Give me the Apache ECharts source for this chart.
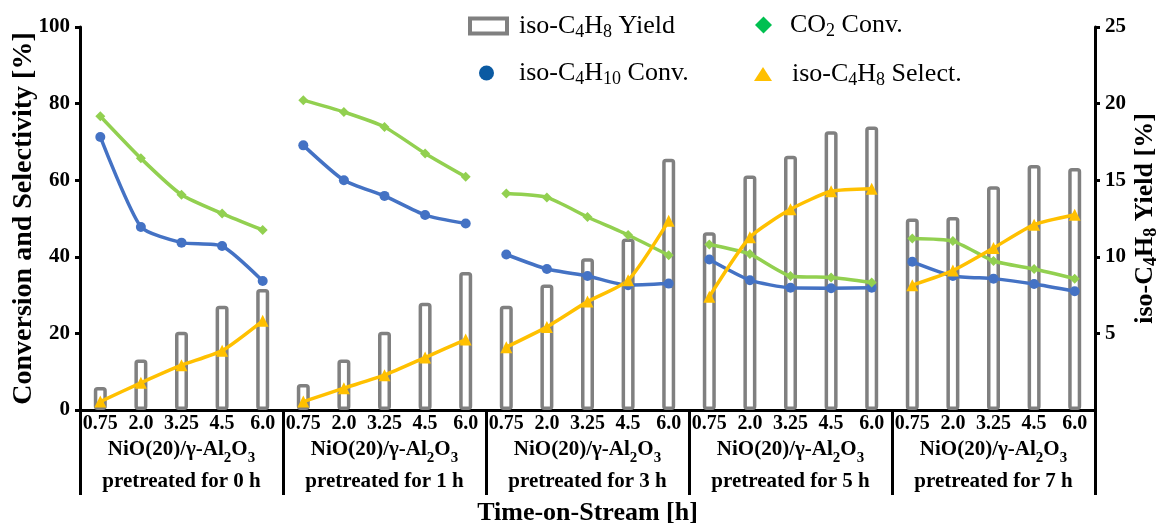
<!DOCTYPE html>
<html>
<head>
<meta charset="utf-8">
<script src="https://cdn.jsdelivr.net/npm/echarts@6/dist/echarts.min.js"></script>
<style>
html,body{margin:0;padding:0;background:#fff;}
#chart{width:1156px;height:525px;}
</style>
</head>
<body>
<div id="chart"></div>
<script>
// ---- data ----
const times = ['0.75', '2.0', '3.25', '4.5', '6.0'];
const pretreat = ['0 h', '1 h', '3 h', '5 h', '7 h'];

// iso-C4H10 conversion [%] (left axis)
const isoConv = [71.3, 47.8, 43.7, 42.8, 33.7,
                 69.1, 60.0, 55.9, 50.9, 48.7,
                 40.6, 36.8, 35.0, 32.6, 33.0,
                 39.3, 33.9, 31.9, 31.8, 31.9,
                 38.7, 35.0, 34.3, 32.9, 31.0];
// CO2 conversion [%] (left axis)
const co2Conv = [76.7, 65.7, 56.2, 51.3, 47.0,
                 80.9, 77.8, 73.9, 67.0, 60.9,
                 56.5, 55.5, 50.4, 45.7, 40.4,
                 43.2, 40.7, 35.0, 34.6, 33.3,
                 44.8, 44.1, 38.9, 36.8, 34.3];
// iso-C4H8 selectivity [%] (left axis)
const isoSel = [2.2, 7.1, 11.7, 15.5, 23.3,
                2.2, 5.7, 9.1, 13.7, 18.4,
                16.4, 21.7, 28.3, 33.9, 49.4,
                29.6, 45.1, 52.4, 57.1, 57.8,
                32.6, 36.4, 42.3, 48.4, 51.0];
// iso-C4H8 yield [%] (right axis)
const isoYield = [1.5, 3.3, 5.1, 6.8, 7.9,
                  1.7, 3.3, 5.1, 7.0, 9.0,
                  6.8, 8.2, 9.9, 11.2, 16.4,
                  11.6, 15.3, 16.6, 18.2, 18.5,
                  12.5, 12.6, 14.6, 16.0, 15.8];

const leftTicks = [0, 20, 40, 60, 80, 100];
const rightTicks = [0, 5, 10, 15, 20, 25];

// ---- build ----
const FONT = 'Liberation Serif';
const cats = [];
pretreat.forEach((p, g) => times.forEach(t => cats.push(g + '|' + t)));

const names = {
  Yield: '{g|}{n|iso-C}{s|4}{n|H}{s|8}{n| Yield}',
  Conv: '{g|}{n|iso-C}{s|4}{n|H}{s|10}{n| Conv.}',
  CO2: '{g|}{n|CO}{s|2}{n| Conv.}',
  Sel: '{g|}{n|iso-C}{s|4}{n|H}{s|8}{n| Select.}'
};
function legendRich(gap) {
  return {
    g: {width: gap},
    n: {fontFamily: FONT, fontSize: 26, lineHeight: 30, color: '#000'},
    s: {fontFamily: FONT, fontSize: 18, lineHeight: 20, verticalAlign: 'bottom', color: '#000'}
  };
}
function mkLegend(name, left, top, w, h, icon, itemStyle, gap) {
  return {
    left: left, top: top, itemWidth: w, itemHeight: h, padding: 0,
    selectedMode: false,
    data: [{name: name, icon: icon, itemStyle: itemStyle}],
    formatter: n => names[n],
    textStyle: {rich: legendRich(gap)}
  };
}

function groupSlice(arr, g) {
  return arr.map((v, i) => (Math.floor(i / 5) === g ? v : '-'));
}

const series = [{
  name: 'Yield', type: 'bar', yAxisIndex: 1, xAxisIndex: 0,
  data: isoYield, barWidth: 13,
  itemStyle: {color: '#ffffff', borderColor: '#808080', borderWidth: 3.5, borderRadius: 2}
}];
const lineDefs = [
  {name: 'Conv', arr: isoConv, color: '#4472C4', symbol: 'circle', size: 10},
  {name: 'CO2', arr: co2Conv, color: '#92D050', symbol: 'diamond', size: 10},
  {name: 'Sel', arr: isoSel, color: '#FFC000', symbol: 'triangle', size: 12}
];
lineDefs.forEach(d => {
  for (let g = 0; g < pretreat.length; g++) {
    series.push({
      name: d.name, type: 'line', yAxisIndex: 0, xAxisIndex: 0,
      data: groupSlice(d.arr, g), smooth: 0.2,
      symbol: d.symbol, symbolSize: d.size, showSymbol: true,
      lineStyle: {color: d.color, width: 3.5},
      itemStyle: {color: d.color},
      z: 3
    });
  }
});

const axisBlack = {color: '#000', width: 3};
const option = {
  animation: false,
  backgroundColor: '#fff',
  grid: {left: 80, right: 61, top: 27, bottom: 115, containLabel: false, outerBoundsMode: 'none'},
  legend: [
    mkLegend('Yield', 468, 13, 37, 15, 'rect', {color: '#fff', borderColor: '#808080', borderWidth: 4}, 7),
    mkLegend('Conv', 479, 60, 15, 15, 'circle', {color: '#0B5AA2'}, 20),
    mkLegend('CO2', 755, 12, 17, 17, 'diamond', {color: '#00C050'}, 13),
    mkLegend('Sel', 754, 61, 18, 14, 'triangle', {color: '#FFC000'}, 15)
  ],
  xAxis: [{
    type: 'category', data: cats, boundaryGap: true, position: 'bottom',
    axisLine: {lineStyle: axisBlack},
    axisTick: {show: false},
    splitLine: {show: false},
    axisLabel: {
      interval: 0, margin: 4, color: '#000', fontFamily: FONT, fontWeight: 'bold', fontSize: 20,
      formatter: v => v.split('|')[1]
    }
  }, {
    type: 'category', data: pretreat, boundaryGap: true, position: 'bottom', gridIndex: 0,
    axisLine: {show: false},
    axisTick: {show: true, length: 85, interval: 0, lineStyle: axisBlack},
    splitLine: {show: false},
    axisLabel: {
      interval: 0, margin: 24,
      formatter: v => '{b|NiO(20)/γ-Al}{bs|2}{b|O}{bs|3}\n{b|pretreated for ' + v + '}',
      rich: {
        b: {fontFamily: FONT, fontWeight: 'bold', fontSize: 21, lineHeight: 32, color: '#000'},
        bs: {fontFamily: FONT, fontWeight: 'bold', fontSize: 15, lineHeight: 25, verticalAlign: 'bottom', color: '#000'}
      }
    },
    name: 'Time-on-Stream [h]', nameLocation: 'middle', nameGap: 90, nameMoveOverlap: false,
    nameTextStyle: {fontFamily: FONT, fontWeight: 'bold', fontSize: 26, color: '#000'}
  }],
  yAxis: [{
    type: 'value', position: 'left', min: leftTicks[0], max: leftTicks[leftTicks.length - 1], interval: leftTicks[1] - leftTicks[0],
    axisLine: {show: true, lineStyle: axisBlack},
    axisTick: {show: true, length: 5, lineStyle: axisBlack},
    splitLine: {show: false},
    axisLabel: {margin: 10, color: '#000', fontFamily: FONT, fontWeight: 'bold', fontSize: 21},
    name: 'Conversion and Selectivity [%]', nameLocation: 'middle', nameRotate: 90, nameGap: 42, nameMoveOverlap: false,
    nameTextStyle: {fontFamily: FONT, fontWeight: 'bold', fontSize: 28, color: '#000'}
  }, {
    type: 'value', position: 'right', min: rightTicks[0], max: rightTicks[rightTicks.length - 1], interval: rightTicks[1] - rightTicks[0],
    axisLine: {show: true, lineStyle: axisBlack},
    axisTick: {show: true, length: 5, lineStyle: axisBlack},
    splitLine: {show: false},
    axisLabel: {margin: 10, color: '#000', fontFamily: FONT, fontWeight: 'bold', fontSize: 21, showMinLabel: false},
    name: '{b|iso-C}{bs|4}{b|H}{bs|8}{b| Yield [%]}', nameLocation: 'middle', nameRotate: 90, nameGap: 35, nameMoveOverlap: false,
    nameTextStyle: {
      rich: {
        b: {fontFamily: FONT, fontWeight: 'bold', fontSize: 26, lineHeight: 30, color: '#000'},
        bs: {fontFamily: FONT, fontWeight: 'bold', fontSize: 18, lineHeight: 22, verticalAlign: 'bottom', color: '#000'}
      }
    }
  }],
  series: series
};

const chart = echarts.init(document.getElementById('chart'), null, {renderer: 'canvas'});
chart.setOption(option);
</script>
</body>
</html>
